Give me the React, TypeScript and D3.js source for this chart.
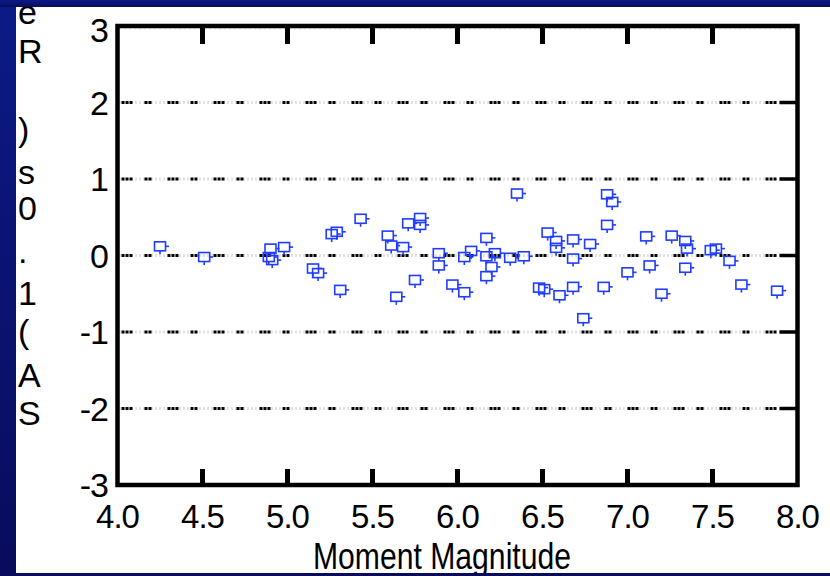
import React from "react";
import * as d3 from "d3";

const magnitude = [
  4.25, 4.51, 4.9, 4.89, 4.91, 4.98, 5.15, 5.18, 5.26, 5.29, 5.31, 5.43, 5.59, 5.61, 5.68, 5.71,
  5.78, 5.78, 5.64, 5.75, 5.89, 5.89, 5.97, 6.04, 6.04, 6.08, 6.17, 6.17, 6.2, 6.17, 6.22, 6.31,
  6.35, 6.39, 6.53, 6.58, 6.58, 6.48, 6.51, 6.6, 6.68, 6.68, 6.68, 6.74, 6.78, 6.86, 6.88, 6.91,
  6.88, 7.0, 7.11, 7.13, 7.2, 7.26, 7.34, 7.35, 7.34, 7.49, 7.52, 7.6, 7.67, 7.88,
];
const residual = [
  0.12, -0.02, 0.09, -0.02, -0.06, 0.11, -0.17, -0.23, 0.28, 0.31, -0.45, 0.48, 0.26, 0.13, 0.11, 0.42,
  0.49, 0.4, -0.54, -0.32, 0.03, -0.13, -0.38, -0.48, -0.02, 0.06, 0.23, -0.01, -0.15, -0.27, 0.03, -0.03,
  0.81, -0.01, 0.3, 0.19, 0.1, -0.42, -0.44, -0.52, 0.21, -0.04, -0.41, -0.82, 0.15, -0.41, 0.8, 0.7,
  0.4, -0.22, 0.25, -0.13, -0.5, 0.26, 0.19, 0.09, -0.16, 0.07, 0.09, -0.07, -0.38, -0.46,
];
const xTicks = [4.0, 4.5, 5.0, 5.5, 6.0, 6.5, 7.0, 7.5, 8.0];
const yTicks = [-3, -2, -1, 0, 1, 2, 3];
const gridValues = [-2, -1, 0, 1, 2];
const yLabelChars = ["S", "A", "(", "1", ".", "0", "s", ")", " ", "R", "e"];
const yLabelBaselines = [425, 387, 343, 305, 263, 220, 184, 141, 100, 63, 24];
const xTitle = "Moment Magnitude";

const W = 830;
const H = 576;
const L = 117.5, R = 797.5, T = 26, B = 485;

export default function App() {
  const x = d3.scaleLinear().domain([4, 8]).range([L, R]);
  const y = d3.scaleLinear().domain([-3, 3]).range([B, T]);
  const font = "'Liberation Sans', Arial, sans-serif";
  const markerColor = "#1f3cff";
  const pts = magnitude.map((m, i) => ({ cx: x(m), cy: y(residual[i]) }));
  return (
    <svg
      width={W}
      height={H}
      style={{ position: "fixed", left: 0, top: 0, display: "block" }}
      fontFamily={font}
    >
      <defs>
        <linearGradient id="bg" x1="0" y1="0" x2="0" y2="1">
          <stop offset="0" stopColor="#0b1a86" />
          <stop offset="1" stopColor="#090c5c" />
        </linearGradient>
      </defs>
      <rect x={0} y={0} width={W} height={H} fill="url(#bg)" />
      <rect x={16} y={7} width={W - 16} height={566} fill="#ffffff" />

      {/* gridlines */}
      {gridValues.map((v) => (
        <g key={"g" + v}>
          <line x1={L + 2} x2={R - 2} y1={y(v)} y2={y(v)} stroke="#c4c4c4" strokeWidth={3} strokeDasharray="1 3" />
          <line x1={L + 4} x2={R - 18} y1={y(v)} y2={y(v)} stroke="#000" strokeWidth={3} strokeDasharray="3 1 3 1 3 12 3 1 3 16" />
        </g>
      ))}
      <line x1={L + 2} x2={R - 2} y1={T + 3} y2={T + 3} stroke="#d0d0d0" strokeWidth={1.5} strokeDasharray="1 4" />

      {/* markers */}
      {pts.map((p, i) => (
        <g key={"p" + i} stroke={markerColor} strokeWidth={1.6} fill="none">
          <rect x={p.cx - 5.5} y={p.cy - 4.5} width={11} height={9} />
          <line x1={p.cx + 5.5} x2={p.cx + 9} y1={p.cy} y2={p.cy} />
          <line x1={p.cx} x2={p.cx} y1={p.cy + 4.5} y2={p.cy + 8} />
        </g>
      ))}

      {/* axes box */}
      <rect x={L} y={T} width={R - L} height={B - T} fill="none" stroke="#000" strokeWidth={4.5} />
      {xTicks.slice(1, -1).map((t) => (
        <g key={"xt" + t}>
          <line x1={x(t)} x2={x(t)} y1={T} y2={T + 18} stroke="#000" strokeWidth={5} />
          <line x1={x(t)} x2={x(t)} y1={B} y2={B - 16} stroke="#000" strokeWidth={5} />
        </g>
      ))}
      {gridValues.map((v) => (
        <line key={"yt" + v} x1={R} x2={R - 18} y1={y(v)} y2={y(v)} stroke="#000" strokeWidth={3.5} />
      ))}

      {/* tick labels */}
      {xTicks.map((t) => (
        <text key={"xl" + t} x={x(t)} y={528} fontSize={33} textAnchor="middle" fill="#000" letterSpacing={-1}>
          {d3.format(".1f")(t)}
        </text>
      ))}
      {yTicks.map((t) => (
        <text key={"yl" + t} x={108} y={y(t) + 12 + (t === 3 ? 4 : 0)} fontSize={34} textAnchor="end" fill="#000" letterSpacing={-1}>
          {t}
        </text>
      ))}

      {/* axis titles */}
      <text x={313} y={569} fontSize={36} fill="#000" textLength={258} lengthAdjust="spacingAndGlyphs">
        {xTitle}
      </text>
      {yLabelChars.map((c, i) => (
        <text key={"yc" + i} x={18} y={yLabelBaselines[i]} fontSize={34} fill="#000">
          {c}
        </text>
      ))}
      <rect x={0} y={0} width={W} height={7} fill="url(#bg)" />
      <rect x={0} y={573} width={W} height={3} fill="#090c5c" />
    </svg>
  );
}
